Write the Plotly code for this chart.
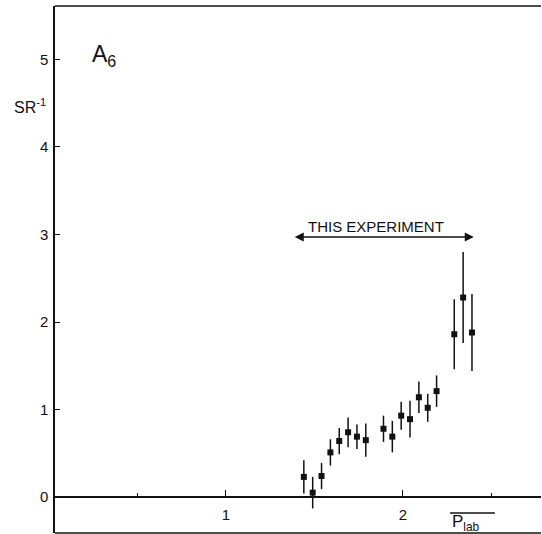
import plotly.graph_objects as go

# Lab momentum (GeV/c) and asymmetry parameter A6 (sr^-1) with errors
p_lab = [1.44, 1.49, 1.54, 1.59, 1.64, 1.69, 1.74, 1.79, 1.89,
         1.94, 1.99, 2.04, 2.09, 2.14, 2.19, 2.29, 2.34, 2.39]
a6 = [0.23, 0.05, 0.24, 0.51, 0.64, 0.74, 0.69, 0.65, 0.78,
      0.69, 0.93, 0.89, 1.14, 1.02, 1.21, 1.86, 2.28, 1.88]
a6_err = [0.19, 0.18, 0.15, 0.15, 0.15, 0.17, 0.14, 0.19, 0.15,
          0.18, 0.16, 0.21, 0.18, 0.16, 0.18, 0.40, 0.52, 0.44]

# Momentum span covered by this experiment
exp_range = [1.38, 2.40]
exp_level = 2.97

y_ticks = [0, 1, 2, 3, 4, 5]
x_ticks = [1, 2]
x_minor = [0.5, 2.5]

FONT = "Liberation Sans"
INK = "#111111"

fig = go.Figure()
fig.add_trace(go.Scatter(
    x=p_lab, y=a6, mode="markers",
    marker=dict(symbol="square", size=6, color=INK),
    error_y=dict(type="data", array=a6_err, visible=True,
                 color=INK, thickness=1.5, width=0),
    showlegend=False,
))

fig.update_layout(
    width=542, height=534,
    margin=dict(l=55, r=1, t=6, b=1),
    paper_bgcolor="white", plot_bgcolor="white",
    font=dict(family=FONT, size=15, color=INK),
    xaxis=dict(
        range=[0.034, 2.780], anchor="free", position=0.0683,
        showline=True, linecolor=INK, linewidth=1.5,
        showgrid=False, zeroline=False,
        ticks="inside", ticklen=6, tickwidth=1.2, tickcolor=INK,
        tickvals=x_ticks, ticktext=[str(v) for v in x_ticks],
        ticklabelstandoff=4,
        minor=dict(tickvals=x_minor, ticks="inside", ticklen=3,
                   tickwidth=1, tickcolor=INK),
        tickfont=dict(family=FONT, size=15, color=INK),
    ),
    yaxis=dict(
        range=[-0.411, 5.611],
        showline=True, linecolor=INK, linewidth=1.5,
        showgrid=False, zeroline=False,
        ticks="inside", ticklen=5, tickwidth=1.2, tickcolor=INK,
        tickvals=y_ticks, ticktext=[str(v) for v in y_ticks],
        ticklabelstandoff=2,
        tickfont=dict(family=FONT, size=15, color=INK),
    ),
)

# Frame: top and bottom borders
fig.add_shape(type="line", xref="paper", yref="paper",
              x0=0, x1=1, y0=1, y1=1, line=dict(color=INK, width=1.5))
fig.add_shape(type="line", xref="paper", yref="paper",
              x0=0, x1=1, y0=0, y1=0, line=dict(color=INK, width=1.5))

# Double-headed arrow marking the experiment's momentum range
fig.add_annotation(
    x=exp_range[1], y=exp_level, ax=exp_range[0], ay=exp_level,
    xref="x", yref="y", axref="x", ayref="y",
    text="", showarrow=True, arrowhead=2, arrowside="end+start",
    arrowsize=1.2, arrowwidth=1.5, arrowcolor=INK,
)
fig.add_annotation(
    x=sum(exp_range) / 2 - 0.045, y=exp_level, xref="x", yref="y",
    text="THIS EXPERIMENT", showarrow=False, yanchor="bottom", yshift=0,
    font=dict(family=FONT, size=15, color=INK),
)

# Panel label and axis titles
fig.add_annotation(
    x=0.31, y=5.05, xref="x", yref="y",
    text="A<sub>6</sub>", showarrow=False,
    font=dict(family=FONT, size=23, color=INK),
)
fig.add_annotation(
    x=-0.014, y=0.833, xref="paper", yref="paper",
    xanchor="right", text="SR<sup>-1</sup>", showarrow=False,
    font=dict(family=FONT, size=16, color=INK),
)
fig.add_annotation(
    x=0.812, y=-0.006, xref="paper", yref="paper",
    xanchor="left", yanchor="bottom",
    text="P<sub>lab</sub>", showarrow=False,
    font=dict(family=FONT, size=17, color=INK),
)
fig.add_shape(type="line", xref="paper", yref="paper",
              x0=0.813, x1=0.905, y0=0.038, y1=0.038,
              line=dict(color=INK, width=1.5))

fig.write_html("out.html")
